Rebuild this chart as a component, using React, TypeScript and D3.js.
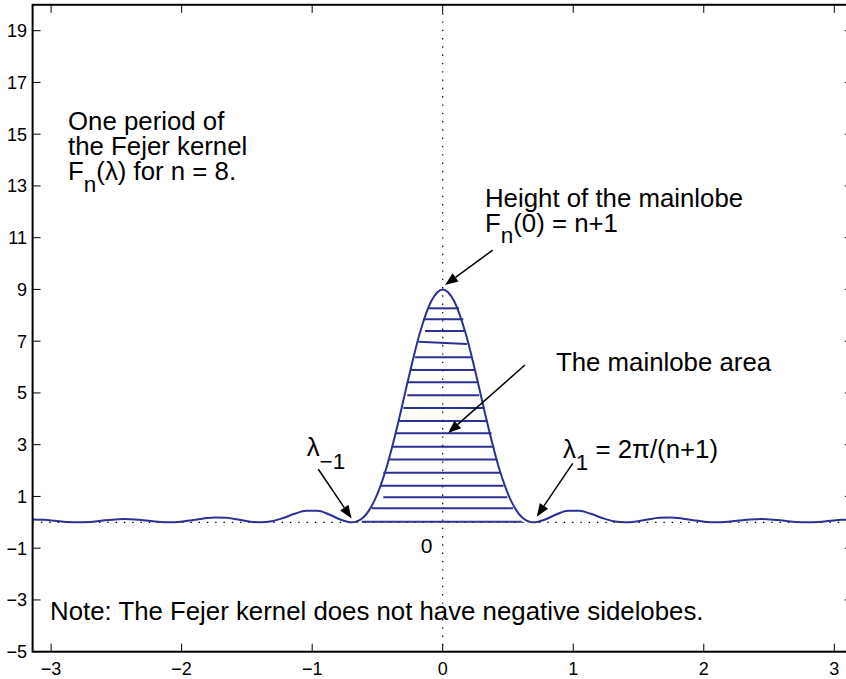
import * as d3 from "d3";

const lambda = [
  -3.142, -3.054, -2.967, -2.880, -2.793, -2.705, -2.618, -2.531, -2.443, -2.356, -2.269, -2.182,
  -2.094, -2.007, -1.920, -1.833, -1.745, -1.658, -1.571, -1.484, -1.396, -1.309, -1.222, -1.134,
  -1.047, -0.960, -0.873, -0.785, -0.698, -0.611, -0.524, -0.436, -0.349, -0.262, -0.175, -0.087,
  0,
  0.087, 0.175, 0.262, 0.349, 0.436, 0.524, 0.611, 0.698, 0.785, 0.873, 0.960, 1.047,
  1.134, 1.222, 1.309, 1.396, 1.484, 1.571, 1.658, 1.745, 1.833, 1.920, 2.007, 2.094,
  2.182, 2.269, 2.356, 2.443, 2.531, 2.618, 2.705, 2.793, 2.880, 2.967, 3.054, 3.142,
];
const fejer = [
  0.111, 0.095, 0.056, 0.017, 0, 0.017, 0.060, 0.104, 0.126, 0.111, 0.068, 0.021,
  0, 0.023, 0.083, 0.151, 0.189, 0.175, 0.111, 0.036, 0, 0.044, 0.169, 0.329,
  0.444, 0.445, 0.311, 0.111, 0, 0.180, 0.829, 2.025, 3.685, 5.567, 7.314, 8.552,
  9,
  8.552, 7.314, 5.567, 3.685, 2.025, 0.829, 0.180, 0, 0.111, 0.311, 0.445, 0.444,
  0.329, 0.169, 0.044, 0, 0.036, 0.111, 0.175, 0.189, 0.151, 0.083, 0.023, 0,
  0.021, 0.068, 0.111, 0.126, 0.104, 0.060, 0.017, 0, 0.017, 0.056, 0.095, 0.111,
];

// hand-drawn hatch lines filling the mainlobe
const hatchX0 = [-0.110, -0.149, -0.135, -0.187, -0.213, -0.245, -0.275, -0.271, -0.301, -0.333, -0.366, -0.383, -0.409, -0.455, -0.475, -0.455, -0.544, -0.620];
const hatchX1 = [0.125, 0.158, 0.172, 0.185, 0.222, 0.247, 0.265, 0.280, 0.318, 0.337, 0.374, 0.392, 0.413, 0.440, 0.466, 0.495, 0.539, 0.606];
const hatchY0 = [8.27, 7.85, 7.39, 6.98, 6.38, 5.89, 5.41, 4.91, 4.42, 3.92, 3.44, 2.92, 2.43, 1.92, 1.41, 0.97, 0.54, 0.02];
const hatchY1 = [8.27, 7.85, 7.39, 6.89, 6.38, 5.89, 5.41, 4.91, 4.42, 3.92, 3.44, 2.92, 2.43, 1.92, 1.41, 0.97, 0.54, 0.02];

const xTicks = [-3, -2, -1, 0, 1, 2, 3];
const yTicks = [-5, -3, -1, 1, 3, 5, 7, 9, 11, 13, 15, 17, 19];

// arrows: [x0, y0, xTip, yTip] in data units
const arrows = [
  [0.383, 10.52, 0.018, 9.17],
  [0.630, 6.08, 0.041, 3.45],
  [-0.953, 2.05, -0.698, 0.15],
  [0.996, 2.28, 0.720, 0.22],
];

const W = 846;
const H = 679;
const FONT = "'Liberation Sans', Arial, Helvetica, sans-serif";
const BLUE = "#2b3192";

export default function App() {
  const x = d3.scaleLinear().domain([-Math.PI, Math.PI]).range([32.6, 852.8]);
  const y = d3.scaleLinear().domain([-5, 20]).range([651.7, 4.8]);
  const [x0, x1] = x.range();
  const [yb, yt] = y.range();

  const pts = lambda.map((l, i) => [l, fejer[i]] as [number, number]);
  const line = d3.line<[number, number]>()
    .x((d) => x(d[0])).y((d) => y(d[1]))
    .curve(d3.curveMonotoneX);

  const arrowHead = (a: number[]) => {
    const sx = x(a[0]), sy = y(a[1]), tx = x(a[2]), ty = y(a[3]);
    const ang = Math.atan2(ty - sy, tx - sx);
    const len = 13, hw = 5;
    const bx = tx - len * Math.cos(ang), by = ty - len * Math.sin(ang);
    const px = -Math.sin(ang) * hw, py = Math.cos(ang) * hw;
    return {
      shaft: [sx, sy, bx, by],
      head: `${tx},${ty} ${bx + px},${by + py} ${bx - px},${by - py}`,
    };
  };

  const ann = 25.8;
  const sub = 22.5;

  return (
    <div style={{ position: "absolute", left: 0, top: 0 }}>
      <svg width={W} height={H} style={{ display: "block", background: "#fff" }} fontFamily={FONT}>
        <rect width={W} height={H} fill="#fff" />

        {/* dotted zero lines */}
        <line x1={x(0)} x2={x(0)} y1={yt} y2={yb} stroke="#000" strokeWidth={1.2} strokeDasharray="1.4 6.9" />
        <line x1={x0} x2={x1} y1={y(0)} y2={y(0)} stroke="#000" strokeWidth={1.2} strokeDasharray="1.4 6.9" />

        {/* hatch lines */}
        {hatchY0.map((hy, i) => (
          <line key={i} x1={x(hatchX0[i])} x2={x(hatchX1[i])} y1={y(hy)} y2={y(hatchY1[i])}
            stroke={BLUE} strokeWidth={2} />
        ))}

        {/* kernel curve */}
        <path d={line(pts) ?? ""} fill="none" stroke={BLUE} strokeWidth={2} />

        {/* ticks */}
        {xTicks.map((t) => (
          <g key={"x" + t}>
            <line x1={x(t)} x2={x(t)} y1={yb} y2={yb - 8} stroke="#000" strokeWidth={1} />
            <line x1={x(t)} x2={x(t)} y1={yt} y2={yt + 8} stroke="#000" strokeWidth={1} />
            <text x={x(t)} y={yb + 23} textAnchor="middle" fontSize={18}>
              {t < 0 ? "\u2212" + Math.abs(t) : t}
            </text>
          </g>
        ))}
        {yTicks.map((t) => (
          <g key={"y" + t}>
            <line x1={x0} x2={x0 + 8} y1={y(t)} y2={y(t)} stroke="#000" strokeWidth={1} />
            <line x1={x1} x2={x1 - 8} y1={y(t)} y2={y(t)} stroke="#000" strokeWidth={1} />
            <text x={27} y={y(t)} dy="0.36em" textAnchor="end" fontSize={18}>
              {t < 0 ? "\u2212" + Math.abs(t) : t}
            </text>
          </g>
        ))}

        {/* box */}
        <rect x={x0} y={yt} width={x1 - x0} height={yb - yt} fill="none" stroke="#000" strokeWidth={2} />

        {/* arrows */}
        {arrows.map((a, i) => {
          const h = arrowHead(a);
          return (
            <g key={"a" + i}>
              <line x1={h.shaft[0]} y1={h.shaft[1]} x2={h.shaft[2]} y2={h.shaft[3]} stroke="#000" strokeWidth={1.5} />
              <polygon points={h.head} fill="#000" />
            </g>
          );
        })}

        {/* annotations */}
        <g fontSize={ann} fill="#000">
          <text x={x(-2.870)} y={y(15.16)}>One period of</text>
          <text x={x(-2.870)} y={y(14.19)}>the Fejer kernel</text>
          <text x={x(-2.870)} y={y(13.23)}>
            F<tspan fontSize={sub} dy={11.7}>n</tspan><tspan dy={-11.7}>(λ) for n = 8.</tspan>
          </text>

          <text x={x(0.324)} y={y(12.2)}>Height of the mainlobe</text>
          <text x={x(0.324)} y={y(11.23)}>
            F<tspan fontSize={sub} dy={11.7}>n</tspan><tspan dy={-11.7}>(0) = n+1</tspan>
          </text>

          <text x={x(0.868)} y={y(5.85)}>The mainlobe area</text>

          <text x={x(-1.042)} y={y(2.56)}>
            λ<tspan fontSize={sub} dy={13}>{"\u22121"}</tspan>
          </text>
          <text x={x(0.921)} y={y(2.49)}>
            λ<tspan fontSize={sub} dy={12}>1</tspan><tspan dy={-12}> = 2π/(n+1)</tspan>
          </text>

          <text x={x(-0.123)} y={y(-1.2)} fontSize={21} textAnchor="middle">0</text>

          <text x={x(-3.008)} y={y(-3.78)}>Note: The Fejer kernel does not have negative sidelobes.</text>
        </g>
      </svg>
    </div>
  );
}
